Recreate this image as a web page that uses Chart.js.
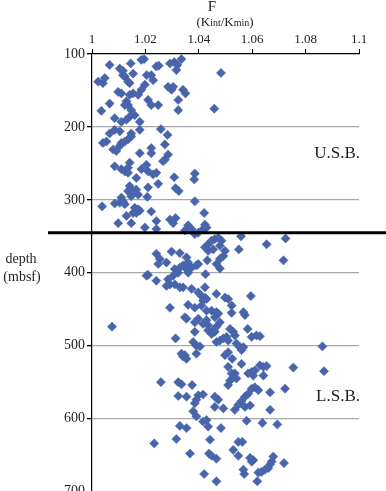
<!DOCTYPE html>
<html>
<head>
<meta charset="utf-8">
<script src="https://cdn.jsdelivr.net/npm/chart.js@4.4.1/dist/chart.umd.min.js"></script>
<style>
  html, body { margin: 0; padding: 0; background: #fff; overflow: hidden; }
  #wrap { width: 386px; height: 520px; }
</style>
</head>
<body>
<div id="wrap"><canvas id="chart" width="386" height="520"></canvas></div>
<script>
// F = Kint/Kmin against depth (mbsf), upper and lower units
const usbF = [
  1.0066,1.0104,1.0116,1.0145,1.0185,1.0195,1.0241,1.0250,1.0292,1.0308,
  1.0320,1.0316,1.0335,1.0483,1.0023,1.0041,1.0048,1.0116,1.0123,1.0154,
  1.0135,1.0141,1.0222,1.0229,1.0205,1.0098,1.0110,1.0141,1.0154,1.0173,
  1.0185,1.0198,1.0285,1.0298,1.0304,1.0341,1.0350,1.0323,1.0210,1.0222,
  1.0248,1.0066,1.0035,1.0129,1.0135,1.0123,1.0147,1.0160,1.0141,1.0129,
  1.0110,1.0085,1.0179,1.0179,1.0323,1.0458,1.0085,1.0066,1.0104,1.0147,
  1.0147,1.0258,1.0283,
  1.0041,1.0054,1.0079,1.0091,1.0104,1.0110,1.0123,1.0135,1.0179,1.0222,
  1.0222,1.0273,1.0285,1.0273,1.0266,1.0085,1.0110,1.0123,1.0135,1.0141,
  1.0135,1.0185,1.0204,1.0210,1.0229,1.0241,1.0166,1.0308,1.0385,1.0383,
  1.0141,1.0135,1.0154,1.0166,1.0173,1.0147,1.0210,1.0207,1.0248,1.0313,
  1.0325,1.0110,1.0116,1.0104,1.0123,1.0038,1.0085,1.0385,1.0160,1.0173,
  1.0166,1.0154,1.0179,1.0129,1.0222,1.0420,1.0098,1.0147,1.0241,1.0292,
  1.0313,1.0304,1.0360,1.0423,1.0198,1.0241,1.0348,1.0373,1.0416,1.0429
];
const usbDepth = [
  115,120,123,113,108,107,117,116,113,111,
  115,122,107,126,138,140,133,129,131,127,
  138,140,129,136,129,152,154,156,154,156,
  149,142,145,149,145,149,154,163,163,170,
  170,168,178,165,170,170,177,184,186,190,
  193,188,193,204,177,175,204,209,206,209,
  213,203,211,
  222,220,231,233,226,222,220,217,236,229,
  236,224,238,245,247,254,258,261,263,249,
  256,258,252,261,265,263,270,269,264,272,
  281,288,288,286,293,295,283,296,278,284,
  288,297,302,304,306,309,305,302,311,313,
  318,318,315,322,316,318,332,332,329,327,
  325,332,335,334,338,340,342,340,340,338
];
const lsbF = [
  1.0385,1.0398,1.0558,1.0654,1.0725,1.0423,1.0435,1.0448,1.0460,1.0473,
  1.0485,1.0479,1.0454,1.0435,1.0498,1.0492,1.0479,1.0466,1.0479,1.0550,
  1.0717,1.0241,1.0254,1.0248,1.0279,1.0298,1.0329,1.0354,1.0360,1.0432,
  1.0310,1.0329,1.0341,1.0354,1.0373,1.0391,1.0398,1.0360,1.0323,1.0304,
  1.0204,1.0210,1.0425,1.0241,1.0285,1.0292,1.0279,1.0310,1.0329,1.0341,
  1.0373,1.0423,1.0398,1.0410,1.0423,1.0429,1.0416,1.0466,1.0498,1.0510,
  1.0523,1.0595,1.0360,1.0385,1.0410,1.0429,1.0448,1.0466,1.0292,1.0567,
  1.0523,
  1.0075,1.0348,1.0354,1.0385,1.0398,1.0416,1.0429,1.0435,1.0460,1.0473,
  1.0479,1.0466,1.0454,1.0573,1.0517,1.0529,1.0535,1.0583,1.0598,1.0616,
  1.0629,1.0313,1.0385,1.0379,1.0391,1.0404,1.0435,1.0448,1.0460,1.0466,
  1.0479,1.0492,1.0504,1.0510,1.0541,1.0554,1.0560,1.0567,1.0863,1.0335,
  1.0348,1.0354,1.0341,1.0391,1.0498,1.0510,1.0525,1.0560,1.0510,1.0523,
  1.0529,1.0517,1.0510,1.0541,1.0535,1.0585,1.0598,1.0610,1.0604,1.0629,
  1.0642,1.0654,1.0642,1.0754,1.0869,1.0258,1.0323,1.0335,1.0375,1.0723,
  1.0667,1.0598,1.0610,1.0623,1.0585,1.0573,1.0560,1.0323,1.0354,1.0398,
  1.0416,1.0391,1.0460,1.0473,
  1.0385,1.0460,1.0492,1.0535,1.0548,1.0573,1.0592,1.0667,1.0379,1.0391,
  1.0416,1.0429,1.0435,1.0329,1.0354,1.0483,1.0579,1.0638,1.0694,1.0233,
  1.0316,1.0442,1.0367,1.0438,1.0448,1.0466,1.0529,1.0548,1.0563,1.0548,
  1.0592,1.0598,1.0604,1.0679,1.0673,1.0667,1.0660,1.0648,1.0635,1.0623,
  1.0719,1.0567,1.0570,1.0420,1.0466,1.0619
];
const lsbDepth = [
  347,345,350,361,353,365,361,356,354,352,
  356,363,368,370,370,377,381,388,394,368,
  383,374,381,388,386,371,373,379,386,383,
  395,393,390,395,393,390,388,400,400,404,
  404,403,402,411,409,416,418,416,420,420,
  422,420,427,432,434,436,438,429,434,436,
  445,432,444,448,445,452,452,454,448,454,
  455,
  474,461,463,468,463,470,465,472,461,456,
  468,474,479,458,477,481,486,477,488,486,
  487,490,481,495,500,501,479,484,481,495,
  493,490,488,493,497,502,506,502,501,511,
  513,518,515,511,513,509,518,525,529,538,
  543,548,554,545,538,538,536,534,541,527,
  529,528,541,530,535,550,550,553,554,559,
  564,559,557,561,566,570,576,569,570,568,
  567,574,570,574,
  579,584,586,588,581,584,582,588,590,597,
  604,602,611,610,613,613,603,606,608,634,
  628,629,648,648,651,655,643,632,632,651,
  654,659,657,652,659,663,668,670,673,674,
  661,670,676,676,686,686
];

const xTicks = [1, 1.02, 1.04, 1.06, 1.08, 1.1];
const yTicks = [100, 200, 300, 400, 500, 600, 700];
const boundaryDepth = 345;
const unitLabels = [["U.S.B.", 236], ["L.S.B.", 570]];

const serif = "'Liberation Serif', 'Times New Roman', serif";
const blue = "#4865ab";
const ink = "#1e1e1e";

function pairs(xs, ys) {
  return xs.map((x, i) => ({ x: x, y: ys[i] }));
}

const markStyle = {
  pointStyle: "rectRot",
  pointRadius: 4.6,
  backgroundColor: blue,
  borderColor: blue,
  borderWidth: 0.5
};

// titles, unit names and the thick boundary line
const annotate = {
  id: "annotate",
  afterDatasetsDraw(chart) {
    const c = chart.ctx;
    const area = chart.chartArea;
    const ys = chart.scales.y;
    c.save();

    const yb = ys.getPixelForValue(boundaryDepth);
    c.strokeStyle = "#000";
    c.lineWidth = 3;
    c.beginPath();
    c.moveTo(48, yb);
    c.lineTo(chart.width, yb);
    c.stroke();

    c.fillStyle = ink;
    c.textBaseline = "middle";
    c.textAlign = "right";
    c.font = "17px " + serif;
    unitLabels.forEach(([txt, d]) => c.fillText(txt, area.right + 1, ys.getPixelForValue(d)));

    c.textAlign = "center";
    c.font = "14px " + serif;
    c.fillText("depth", 21, 259);
    c.fillText("(mbsf)", 22, 277);

    c.textBaseline = "alphabetic";
    c.font = "15px " + serif;
    c.fillText("F", 212, 11);

    // (Kint/Kmin) with small-letter indices
    const parts = [["(", 13], ["K", 13], ["int", 10], ["/", 13], ["K", 13], ["min", 10], [")", 13]];
    c.textAlign = "left";
    let total = 0;
    parts.forEach(([t, s]) => { c.font = s + "px " + serif; total += c.measureText(t).width; });
    let x = 225 - total / 2;
    parts.forEach(([t, s]) => {
      c.font = s + "px " + serif;
      c.fillText(t, x, 26);
      x += c.measureText(t).width;
    });
    c.restore();
  }
};

new Chart(document.getElementById("chart"), {
  type: "scatter",
  data: {
    datasets: [
      Object.assign({ label: "U.S.B.", data: pairs(usbF, usbDepth) }, markStyle),
      Object.assign({ label: "L.S.B.", data: pairs(lsbF, lsbDepth) }, markStyle)
    ]
  },
  options: {
    responsive: false,
    devicePixelRatio: 1,
    animation: false,
    layout: { padding: { left: 0, top: 0, right: 27, bottom: 28.5 } },
    plugins: { legend: { display: false }, tooltip: { enabled: false } },
    scales: {
      x: {
        type: "linear",
        position: "top",
        min: 1,
        max: 1.1,
        afterBuildTicks: s => { s.ticks = xTicks.map(v => ({ value: v })); },
        afterFit: s => { s.height = 54; },
        grid: { drawOnChartArea: false, tickLength: 5, tickColor: "#000" },
        border: { color: "#000", width: 1.2 },
        ticks: {
          font: { family: serif, size: 13 },
          color: ink,
          padding: 2,
          maxRotation: 0,
          autoSkip: false,
          callback: v => String(+v.toFixed(2))
        }
      },
      y: {
        type: "linear",
        reverse: true,
        min: 100,
        max: 700,
        afterBuildTicks: s => { s.ticks = yTicks.map(v => ({ value: v })); },
        afterFit: s => { s.width = 92; },
        grid: {
          color: c => (c.tick && c.tick.value === 100 ? "rgba(0,0,0,0)" : "#a8a8a8"),
          lineWidth: 1.3,
          tickLength: 5,
          tickColor: "#000"
        },
        border: { color: "#000", width: 1.2 },
        ticks: {
          font: { family: serif, size: 14 },
          color: ink,
          padding: 2,
          autoSkip: false
        }
      }
    }
  },
  plugins: [annotate]
});
</script>
</body>
</html>
